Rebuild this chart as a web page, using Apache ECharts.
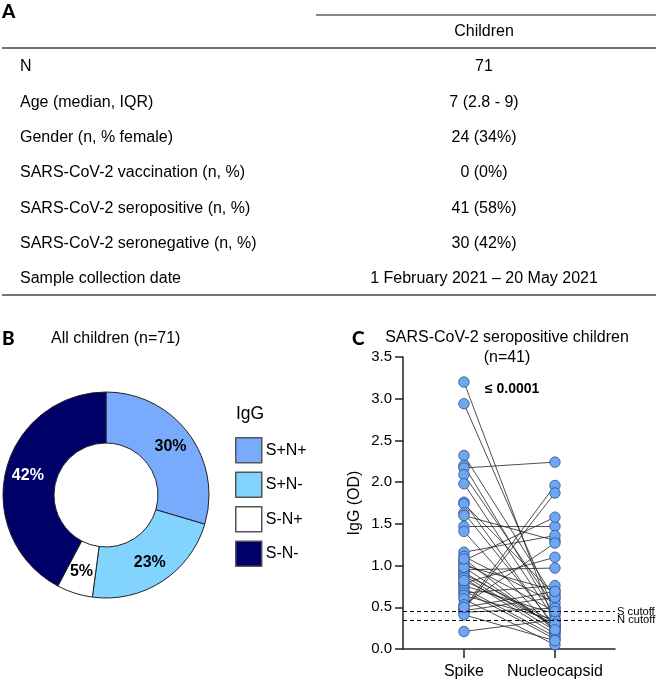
<!DOCTYPE html>
<html>
<head>
<meta charset="utf-8">
<script src="https://cdn.jsdelivr.net/npm/echarts@6/dist/echarts.min.js"></script>
<style>
html,body{margin:0;padding:0;background:#fff;}
#chart{width:658px;height:680px;}
</style>
</head>
<body>
<div id="chart"></div>
<script>
// ---- data ----
const tableHeader = 'Children';
const rowLabels = [
  'N',
  'Age (median, IQR)',
  'Gender (n, % female)',
  'SARS-CoV-2 vaccination (n, %)',
  'SARS-CoV-2 seropositive (n, %)',
  'SARS-CoV-2 seronegative (n, %)',
  'Sample collection date'
];
const rowValues = [
  '71',
  '7 (2.8 - 9)',
  '24 (34%)',
  '0 (0%)',
  '41 (58%)',
  '30 (42%)',
  '1 February 2021 \u2013 20 May 2021'
];

const pieTitle = 'All children (n=71)';
const legendTitle = 'IgG';
const pieNames = ['S+N+', 'S+N-', 'S-N+', 'S-N-'];
const pieCounts = [21, 16, 4, 30];
const pieLabels = ['30%', '23%', '5%', '42%'];

const dotTitle = 'SARS-CoV-2 seropositive children\n(n=41)';
const xCategories = ['Spike', 'Nucleocapsid'];
const yTicks = [0, 0.5, 1.0, 1.5, 2.0, 2.5, 3.0, 3.5];
const pValueText = '\u2264 0.0001';
const spikeOD = [3.20, 2.94, 2.32, 2.20, 2.17, 2.09, 1.98, 1.76, 1.74, 1.63,
                 1.60, 1.47, 1.41, 1.16, 1.11, 1.06, 1.00, 0.95, 0.92, 0.90,
                 0.88, 0.85, 0.79, 0.76, 0.73, 0.70, 0.67, 0.64, 0.60, 0.53,
                 0.49, 0.47, 0.46, 0.44, 0.41, 0.21, 1.03, 0.98, 0.82, 1.08, 0.50];
const nucleocapsidOD = [0.30, 0.45, 0.60, 0.40, 2.24, 0.50, 0.35, 0.25, 0.65, 0.28,
                 1.30, 1.47, 0.20, 1.36, 0.55, 1.58, 0.70, 0.97, 0.27, 0.32,
                 0.22, 0.18, 1.10, 0.42, 0.15, 0.12, 0.76, 0.35, 0.05, 1.27,
                 1.96, 1.87, 0.62, 0.49, 0.10, 0.35, 0.45, 0.26, 0.30, 0.23, 0.69];
const cutoffNames = ['S cutoff', 'N cutoff'];
const cutoffValues = [0.45, 0.35];

// ---- styles / layout ----
const FONT = '"Liberation Sans", Arial, Helvetica, sans-serif';
const BOLDF = 'Lato, "Liberation Sans", Arial, sans-serif';
const FS = 16;
const pieColors = ['#78abfb', '#82d4ff', '#ffffff', '#000069'];
const pieLabelColors = ['#000', '#000', '#000', '#fff'];

const graphics = [];
// panel letters
[['A', 2, 12], ['B', 2, 339], ['C', 352, 339]].forEach(([t, x, y]) => {
  graphics.push({type: 'text', x: x, y: y, style: {text: t, font: '900 19px ' + BOLDF, fill: '#000', align: 'left', verticalAlign: 'middle'}});
});
// table rules
graphics.push({type: 'line', shape: {x1: 316, y1: 15, x2: 656, y2: 15}, style: {stroke: '#111', lineWidth: 1}});
graphics.push({type: 'line', shape: {x1: 2, y1: 48, x2: 656, y2: 48}, style: {stroke: '#444', lineWidth: 1.6}});
graphics.push({type: 'line', shape: {x1: 2, y1: 295, x2: 656, y2: 295}, style: {stroke: '#444', lineWidth: 1.6}});
graphics.push({type: 'text', x: 484, y: 32, style: {text: tableHeader, font: FS + 'px ' + FONT, fill: '#000', align: 'center', verticalAlign: 'middle'}});
rowLabels.forEach((lab, i) => {
  const y = 67 + i * 35.3;
  graphics.push({type: 'text', x: 20, y: y, style: {text: lab, font: FS + 'px ' + FONT, fill: '#000', align: 'left', verticalAlign: 'middle'}});
  graphics.push({type: 'text', x: 484, y: y, style: {text: rowValues[i], font: FS + 'px ' + FONT, fill: '#000', align: 'center', verticalAlign: 'middle'}});
});
// panel titles
graphics.push({type: 'text', x: 51, y: 339, style: {text: pieTitle, font: FS + 'px ' + FONT, fill: '#000', align: 'left', verticalAlign: 'middle'}});
graphics.push({type: 'text', x: 236, y: 414, style: {text: legendTitle, font: '17.5px ' + FONT, fill: '#000', align: 'left', verticalAlign: 'middle'}});
graphics.push({type: 'text', x: 507, y: 348, style: {text: dotTitle, font: FS + 'px ' + FONT, fill: '#000', align: 'center', verticalAlign: 'middle', lineHeight: 20}});
graphics.push({type: 'text', x: 485, y: 389, style: {text: pValueText, font: 'bold 14px ' + FONT, fill: '#000', align: 'left', verticalAlign: 'middle'}});

const linesData = spikeOD.map((s, i) => ({coords: [[1, s], [2, nucleocapsidOD[i]]]}));
const scatterData = spikeOD.map(v => [1, v]).concat(nucleocapsidOD.map(v => [2, v]));

const option = {
  animation: false,
  backgroundColor: '#fff',
  textStyle: {fontFamily: FONT},
  graphic: graphics,
  legend: {
    orient: 'vertical', left: 235, top: 437, itemWidth: 26, itemHeight: 25, itemGap: 8,
    icon: 'rect', padding: 0, data: pieNames, selectedMode: false,
    itemStyle: {borderColor: '#555', borderWidth: 1.5},
    textStyle: {fontSize: FS, color: '#000', fontFamily: FONT, padding: [0, 0, 0, -1]}
  },
  grid: {left: 403, right: 43, top: 357, bottom: 31, containLabel: false},
  xAxis: {
    type: 'value', min: 0.33, max: 2.66,
    axisLine: {show: true, onZero: false, lineStyle: {color: '#222', width: 1.5}},
    axisTick: {show: true, length: 9, customValues: [1, 2], lineStyle: {color: '#222', width: 1.5}},
    axisLabel: {customValues: [1, 2], margin: 15, fontSize: FS, color: '#000', fontFamily: FONT,
      formatter: v => xCategories[Math.round(v) - 1] || ''},
    splitLine: {show: false}
  },
  yAxis: {
    type: 'value', min: 0, max: 3.5, interval: 0.5,
    name: 'IgG (OD)', nameLocation: 'middle', nameGap: 40,
    nameTextStyle: {fontSize: FS, color: '#000', fontFamily: FONT},
    axisLine: {show: true, lineStyle: {color: '#222', width: 1.5}},
    axisTick: {show: true, length: 8, lineStyle: {color: '#222', width: 1.5}},
    axisLabel: {margin: 11, fontSize: 15, color: '#000', fontFamily: FONT,
      formatter: v => (yTicks.indexOf(v) >= 0 ? v.toFixed(1) : '')},
    splitLine: {show: false}
  },
  series: [
    {
      type: 'pie', center: [106, 495], radius: [52, 103], startAngle: 90, clockwise: true,
      avoidLabelOverlap: false, silent: true,
      itemStyle: {borderColor: '#222', borderWidth: 1},
      label: {show: true, position: 'inside', fontSize: 16, fontWeight: 'bold', fontFamily: FONT,
        formatter: p => pieLabels[p.dataIndex]},
      labelLine: {show: false},
      data: pieNames.map((n, i) => ({
        name: n, value: pieCounts[i],
        itemStyle: {color: pieColors[i]},
        label: {color: pieLabelColors[i]}
      }))
    },
    {
      type: 'lines', coordinateSystem: 'cartesian2d', silent: true, z: 2,
      lineStyle: {color: '#222', width: 0.8, opacity: 1},
      data: linesData
    },
    {
      type: 'scatter', symbol: 'circle', symbolSize: 10.5, z: 3, silent: true,
      itemStyle: {color: '#6fa6f3', borderColor: '#2f4f86', borderWidth: 0.8, opacity: 1},
      data: scatterData,
      markLine: {
        silent: true, symbol: 'none',
        lineStyle: {type: [4, 3], color: '#000', width: 1.2},
        label: {show: true, position: 'end', formatter: '{b}', fontSize: 11.2, color: '#000', fontFamily: FONT, distance: 2},
        data: cutoffNames.map((n, i) => ({name: n, yAxis: cutoffValues[i]}))
      }
    }
  ]
};
const chart = echarts.init(document.getElementById('chart'), null, {renderer: 'canvas'});
chart.setOption(option);
</script>
</body>
</html>
